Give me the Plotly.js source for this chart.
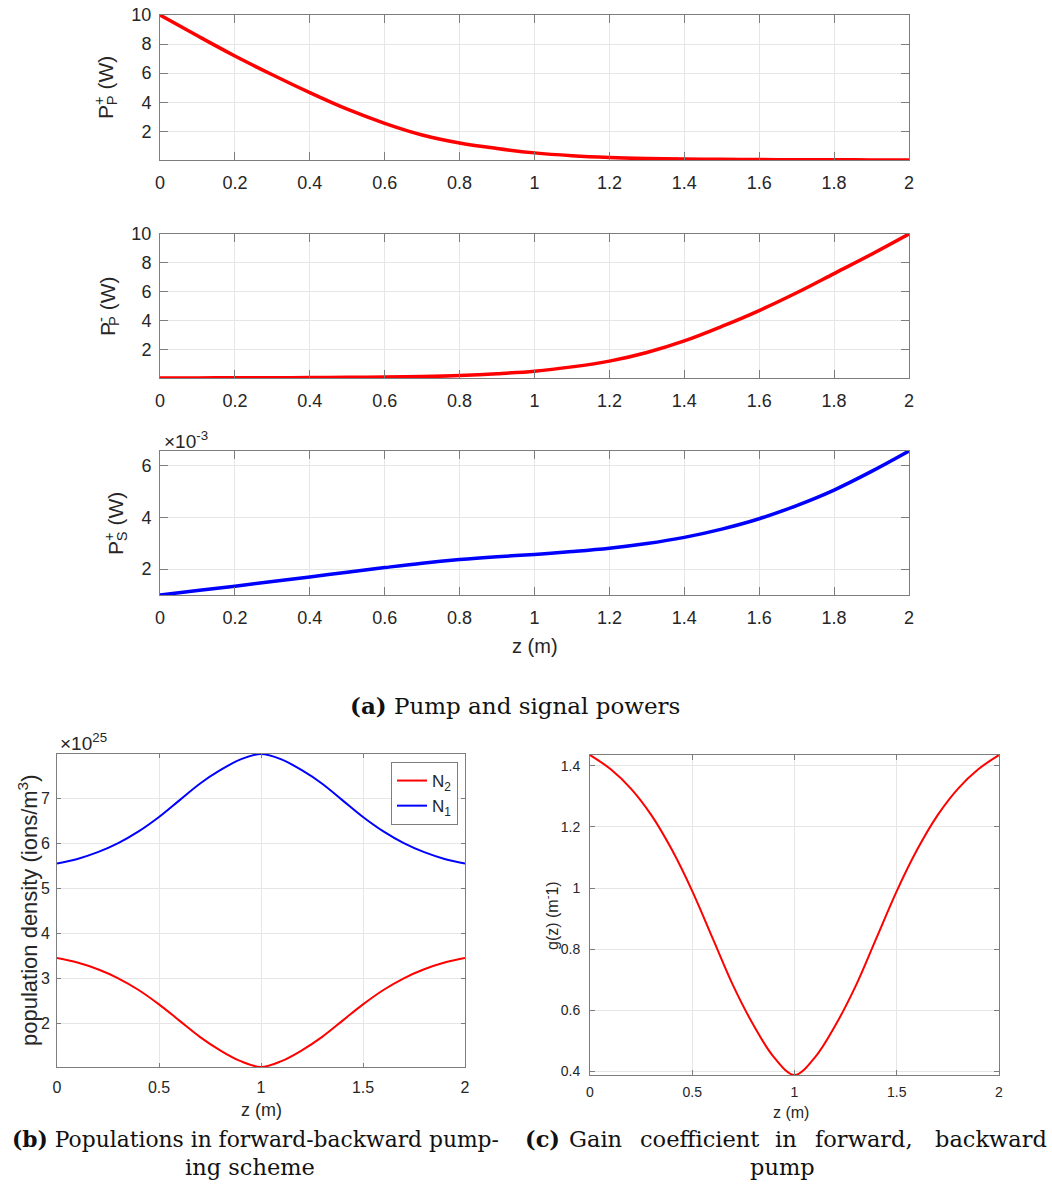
<!DOCTYPE html>
<html>
<head>
<meta charset="utf-8">
<script src="https://cdn.plot.ly/plotly-3.0.1.min.js"></script>
<style>html,body{margin:0;padding:0;background:#fff;}#chart{width:1052px;height:1200px;}</style>
</head>
<body>
<div id="chart"></div>
<script>
// ---- data ----
const z = [0,0.1,0.2,0.3,0.4,0.5,0.6,0.7,0.8,0.9,1.0,1.1,1.2,1.3,1.4,1.5,1.6,1.7,1.8,1.9,2.0];
// (a) forward pump power P_P^+ (W)
const pumpForward = [10,8.57,7.18,5.89,4.66,3.52,2.55,1.75,1.2,0.82,0.52,0.33,0.21,0.14,0.1,0.075,0.06,0.05,0.042,0.036,0.03];
// (a) backward pump power P_P^- (W)
const pumpBackward = [0.03,0.036,0.042,0.05,0.06,0.075,0.1,0.14,0.21,0.33,0.5,0.8,1.2,1.8,2.6,3.6,4.7,5.93,7.26,8.6,10];
// (a) signal power P_S^+ (x1e-3 W)
const signalPower = [1.0,1.17,1.34,1.52,1.70,1.88,2.06,2.23,2.37,2.48,2.57,2.68,2.81,2.99,3.23,3.55,3.95,4.46,5.06,5.78,6.57];
// (b) populations (x1e25 ions/m^3)
const popN2 = [3.45,3.35,3.2,3.0,2.74,2.42,2.06,1.7,1.4,1.16,1.03,1.16,1.4,1.7,2.06,2.42,2.74,3.0,3.2,3.35,3.45];
const popN1 = [5.55,5.65,5.8,6.0,6.26,6.58,6.95,7.32,7.62,7.86,7.98,7.86,7.62,7.32,6.95,6.58,6.26,6.0,5.8,5.65,5.55];
// (c) gain coefficient g(z) (1/m)
const gain = [1.436,1.39,1.326,1.239,1.126,0.99,0.835,0.68,0.55,0.445,0.387,0.445,0.55,0.68,0.835,0.99,1.126,1.239,1.326,1.39,1.436];

const ticksA = [0,0.2,0.4,0.6,0.8,1,1.2,1.4,1.6,1.8,2];
const ticksBC = [0,0.5,1,1.5,2];

// ---- layout helpers ----
const W = 1052, H = 1200;
const px = v => v / W;
const py = v => 1 - v / H;
const SANS = 'Liberation Sans, Arial, Helvetica, sans-serif';
const SERIF = 'DejaVu Serif, serif';
const TXT = '#262626';

function axis(domain, anchor, extra) {
  return Object.assign({
    domain: domain, anchor: anchor,
    showline: true, linecolor: '#7d7d7d', linewidth: 1, mirror: 'ticks',
    ticks: 'inside', ticklen: 8, tickcolor: '#7d7d7d', tickwidth: 1,
    showgrid: true, gridcolor: '#e6e6e6', gridwidth: 1, zeroline: false,
    tickfont: {family: SANS, size: 18, color: TXT},
    fixedrange: true
  }, extra);
}

const traces = [
  {x: z, y: pumpForward, xaxis: 'x', yaxis: 'y', mode: 'lines', line: {color: '#ff0000', width: 3.5, shape: 'spline', smoothing: 1}, showlegend: false},
  {x: z, y: pumpBackward, xaxis: 'x2', yaxis: 'y2', mode: 'lines', line: {color: '#ff0000', width: 3.5, shape: 'spline', smoothing: 1}, showlegend: false},
  {x: z, y: signalPower, xaxis: 'x3', yaxis: 'y3', mode: 'lines', line: {color: '#0000ff', width: 3.5, shape: 'spline', smoothing: 1}, showlegend: false},
  {x: z, y: popN2, xaxis: 'x4', yaxis: 'y4', mode: 'lines', name: 'N<sub>2</sub>', line: {color: '#ff0000', width: 2, shape: 'spline', smoothing: 1}},
  {x: z, y: popN1, xaxis: 'x4', yaxis: 'y4', mode: 'lines', name: 'N<sub>1</sub>', line: {color: '#0000ff', width: 2, shape: 'spline', smoothing: 1}},
  {x: z, y: gain, xaxis: 'x5', yaxis: 'y5', mode: 'lines', line: {color: '#ff0000', width: 2, shape: 'spline', smoothing: 1}, showlegend: false}
];

const dA = [px(160), px(909)];
const dB = [px(57), px(465)];
const dC = [px(590), px(999)];

function ann(text, x, y, size, opts) {
  return Object.assign({text: text, x: px(x), y: py(y), xref: 'paper', yref: 'paper', showarrow: false,
    xanchor: 'center', yanchor: 'middle', font: {family: SANS, size: size, color: TXT}}, opts || {});
}
function cap(text, x, y, anchor, size) {
  const s = size || 22.5;
  return ann(text, x, y, s, {xanchor: anchor, font: {family: SERIF, size: s, color: '#111111'}});
}

const layout = {
  width: W, height: H,
  margin: {l: 0, r: 0, t: 0, b: 0},
  paper_bgcolor: '#ffffff', plot_bgcolor: '#ffffff',
  showlegend: true,
  legend: {x: px(458), y: py(762), xanchor: 'right', yanchor: 'top', bgcolor: '#ffffff',
    bordercolor: '#7d7d7d', borderwidth: 1, font: {family: SANS, size: 17, color: TXT},
    itemwidth: 30, tracegroupgap: 0},
  xaxis:  axis(dA, 'y',  {range: [0, 2], tickvals: ticksA, ticklabelstandoff: 6}),
  yaxis:  axis([py(160), py(15)], 'x', {range: [0.03, 10], tickvals: [2,4,6,8,10], ticklabelstandoff: 4}),
  xaxis2: axis(dA, 'y2', {range: [0, 2], tickvals: ticksA, ticklabelstandoff: 6}),
  yaxis2: axis([py(378), py(234)], 'x2', {range: [0.03, 10], tickvals: [2,4,6,8,10], ticklabelstandoff: 4}),
  xaxis3: axis(dA, 'y3', {range: [0, 2], tickvals: ticksA, ticklabelstandoff: 6}),
  yaxis3: axis([py(595), py(451)], 'x3', {range: [1.0, 6.57], tickvals: [2,4,6], ticklabelstandoff: 4}),
  xaxis4: axis(dB, 'y4', {range: [0, 2], tickvals: ticksBC, ticklen: 4, tickfont: {family: SANS, size: 16, color: TXT}, ticklabelstandoff: 6}),
  yaxis4: axis([py(1067), py(754)], 'x4', {range: [1.03, 7.98], tickvals: [2,3,4,5,6,7], ticklen: 4, tickfont: {family: SANS, size: 16, color: TXT}, ticklabelstandoff: 3}),
  xaxis5: axis(dC, 'y5', {range: [0, 2], tickvals: ticksBC, ticklen: 5, tickfont: {family: SANS, size: 14, color: TXT}, ticklabelstandoff: 4}),
  yaxis5: axis([py(1075), py(755)], 'x5', {range: [0.387, 1.436], tickvals: [0.4,0.6,0.8,1,1.2,1.4], ticklen: 5, tickfont: {family: SANS, size: 14, color: TXT}, ticklabelstandoff: 6}),
  annotations: [
    ann('P<sup><span style="letter-spacing:-0.6em">+</span></sup><sub>P</sub> (W)', 107, 88, 21, {textangle: -90}),
    ann('P<sup><span style="letter-spacing:-0.6em">-</span></sup><sub>P</sub> (W)', 109, 306, 21, {textangle: -90}),
    ann('P<sup><span style="letter-spacing:-0.6em">+</span></sup><sub>S</sub> (W)', 117, 523, 21, {textangle: -90}),
    ann('×10<sup>-3</sup>', 162, 440, 19, {xanchor: 'left'}),
    ann('z (m)', 535, 646, 20),
    ann('<b>(a)</b> Pump and signal powers', 515, 705, 23, {font: {family: SERIF, size: 23, color: '#111111'}}),
    ann('population density (ions/m<sup>3</sup>)', 28, 911, 22, {textangle: -90}),
    ann('×10<sup>25</sup>', 58, 742, 19, {xanchor: 'left'}),
    ann('z (m)', 261, 1110, 18),
    ann('g(z) (m<sup>-</sup>1)', 551, 916, 16, {textangle: -90}),
    ann('z (m)', 791, 1112, 16),
    cap('<b>(b)</b> Populations in forward-backward pump-', 501, 1139, 'right', 21.8),
    cap('ing scheme', 250, 1167, 'center'),
    cap('<b>(c)</b>', 523, 1139, 'left'),
    cap('Gain', 567, 1139, 'left'),
    cap('coefficient', 638, 1139, 'left'),
    cap('in', 773, 1139, 'left'),
    cap('forward,', 813, 1139, 'left'),
    cap('backward', 1049, 1139, 'right'),
    cap('pump', 782, 1167, 'center')
  ]
};

Plotly.newPlot('chart', traces, layout, {staticPlot: true, displayModeBar: false});
</script>
</body>
</html>
